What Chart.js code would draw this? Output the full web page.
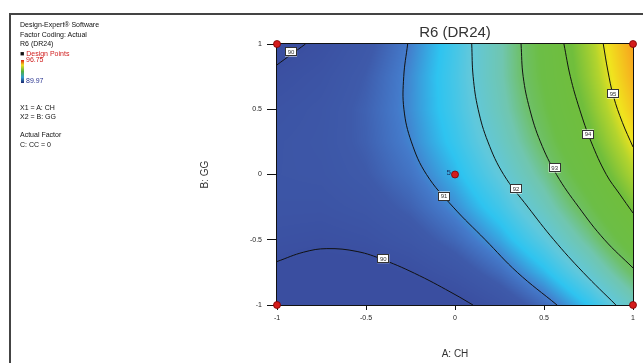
<!DOCTYPE html>
<html>
<head>
<meta charset="utf-8">
<script src="https://cdn.jsdelivr.net/npm/chart.js@4.4.0/dist/chart.umd.min.js"></script>
<style>
  body { margin: 0; background: #fff; }
  #wrap { position: relative; width: 643px; height: 363px; overflow: hidden; font-family: 'Liberation Sans', Arial, sans-serif; }
  #chart { position: absolute; left: 0; top: 0; }
  .frameTop { position: absolute; left: 9px; top: 13px; width: 634px; border-top: 2px solid #444; }
  .frameLeft { position: absolute; left: 9px; top: 13px; height: 350px; border-left: 2px solid #444; }
  .side { position: absolute; left: 20px; font-size: 7px; line-height: 8px; color: #111; white-space: nowrap; }
  .bar { position: absolute; left: 21px; top: 60px; width: 3px; height: 23px;
         background: linear-gradient(to bottom, #e02010 0%, #f0e020 22%, #50b040 50%, #30a0d0 75%, #1c2670 100%); }
</style>
</head>
<body>
<div id="wrap">
  <canvas id="chart" width="643" height="363"></canvas>
  <div class="frameTop"></div>
  <div class="frameLeft"></div>
  <div class="side" style="top:21px">Design-Expert® Software</div>
  <div class="side" style="top:31px">Factor Coding: Actual</div>
  <div class="side" style="top:40px">R6 (DR24)</div>
  <div class="side" style="top:50px"><span style="color:#111">■</span> <span style="color:#d02020">Design Points</span></div>
  <div class="bar"></div>
  <div class="side" style="top:56px;left:26px;color:#d02020">96.75</div>
  <div class="side" style="top:77px;left:26px;color:#2a3590">89.97</div>
  <div class="side" style="top:104px">X1 = A: CH</div>
  <div class="side" style="top:113px">X2 = B: GG</div>
  <div class="side" style="top:131px">Actual Factor</div>
  <div class="side" style="top:141px">C: CC = 0</div>
</div>
<script>
// Rejilla de la superficie de respuesta
const xGrid = [-1, -0.75, -0.5, -0.25, 0, 0.25, 0.5, 0.75, 1];
const yGrid = [1, 0.75, 0.5, 0.25, 0, -0.25, -0.5, -0.75, -1];
const surface = [
  [89.85, 90.10, 90.49, 91.03, 91.72, 92.54, 93.51, 94.63, 95.89],
  [90.09, 90.29, 90.63, 91.12, 91.75, 92.53, 93.45, 94.51, 95.72],
  [90.26, 90.41, 90.70, 91.13, 91.71, 92.44, 93.30, 94.31, 95.47],
  [90.35, 90.44, 90.68, 91.07, 91.60, 92.27, 93.08, 94.04, 95.14],
  [90.36, 90.40, 90.59, 90.92, 91.40, 92.02, 92.78, 93.69, 94.74],
  [90.30, 90.29, 90.42, 90.70, 91.13, 91.69, 92.41, 93.26, 94.26],
  [90.15, 90.09, 90.18, 90.41, 90.78, 91.29, 91.95, 92.76, 93.70],
  [89.93, 89.82, 89.85, 90.03, 90.35, 90.81, 91.42, 92.17, 93.07],
  [89.64, 89.47, 89.45, 89.58, 89.85, 90.26, 90.81, 91.51, 92.36]
];

// Curvas de nivel
const contour90Top = [[-0.84, 1], [-0.92, 0.92], [-1, 0.84]];
const contour90Bottom = [[-1, -0.667], [-0.85, -0.595], [-0.72, -0.568], [-0.55, -0.59], [-0.4, -0.655], [-0.2, -0.775], [0, -0.92], [0.101, -1]];
const contour91 = [[-0.266, 1], [-0.288, 0.75], [-0.287, 0.5], [-0.245, 0.25], [-0.16, 0], [-0.01, -0.25], [0.17, -0.5], [0.35, -0.75], [0.573, -1]];
const contour92 = [[0.094, 1], [0.102, 0.75], [0.13, 0.5], [0.185, 0.25], [0.273, 0], [0.41, -0.25], [0.555, -0.5], [0.72, -0.75], [0.904, -1]];
const contour93 = [[0.371, 1], [0.383, 0.75], [0.42, 0.5], [0.48, 0.25], [0.57, 0], [0.695, -0.25], [0.84, -0.5], [1, -0.716]];
const contour94 = [[0.612, 1], [0.648, 0.75], [0.7, 0.5], [0.765, 0.25], [0.85, 0], [0.925, -0.15], [1, -0.295]];
const contour95 = [[0.833, 1], [0.858, 0.8], [0.89, 0.6], [0.94, 0.4], [1, 0.211]];

// Etiquetas de las curvas: [valor, x, y]
const contourLabels = [[90, -0.921, 0.939], [91, -0.062, -0.165], [92, 0.343, -0.111], [93, 0.56, 0.05], [94, 0.747, 0.31], [95, 0.888, 0.617], [90, -0.403, -0.645]];

// Puntos de diseño
const designX = [-1, 1, -1, 1, 0];
const designY = [1, 1, -1, -1, 0];
const designCount = [1, 1, 1, 1, 5];

const xTicks = [-1, -0.5, 0, 0.5, 1];
const yTicks = [-1, -0.5, 0, 0.5, 1];

// Escala de colores
const colorStops = [
  [89.97, [58, 78, 160]],
  [90.6, [62, 90, 170]],
  [91.0, [68, 122, 202]],
  [91.5, [46, 196, 240]],
  [92.0, [96, 200, 220]],
  [92.6, [112, 198, 175]],
  [93.0, [110, 192, 105]],
  [93.4, [108, 190, 70]],
  [94.2, [112, 190, 60]],
  [94.8, [180, 212, 45]],
  [95.15, [240, 228, 30]],
  [95.9, [248, 160, 30]],
  [96.75, [230, 40, 20]]
];

function colorFor(v) {
  if (v <= colorStops[0][0]) return colorStops[0][1];
  for (let i = 1; i < colorStops.length; i++) {
    if (v <= colorStops[i][0]) {
      const [v0, c0] = colorStops[i - 1], [v1, c1] = colorStops[i];
      const t = (v - v0) / (v1 - v0);
      return [0, 1, 2].map(k => c0[k] + (c1[k] - c0[k]) * t);
    }
  }
  return colorStops[colorStops.length - 1][1];
}

function sample(vx, vy) {
  let i = 0; while (i < xGrid.length - 2 && vx > xGrid[i + 1]) i++;
  let j = 0; while (j < yGrid.length - 2 && vy < yGrid[j + 1]) j++;
  const tx = (vx - xGrid[i]) / (xGrid[i + 1] - xGrid[i]);
  const ty = (vy - yGrid[j]) / (yGrid[j + 1] - yGrid[j]);
  const r0 = surface[j], r1 = surface[j + 1];
  const top = r0[i] + (r0[i + 1] - r0[i]) * tx;
  const bot = r1[i] + (r1[i + 1] - r1[i]) * tx;
  return top + (bot - top) * ty;
}

const heatmap = {
  id: 'heatmap',
  beforeDatasetsDraw(chart) {
    const { ctx, chartArea: a, scales: { x, y } } = chart;
    const left = Math.round(a.left), top = Math.round(a.top);
    const w = Math.round(a.right) - left, h = Math.round(a.bottom) - top;
    const img = ctx.createImageData(w, h);
    for (let j = 0; j < h; j++) {
      const vy = y.getValueForPixel(top + j + 0.5);
      for (let i = 0; i < w; i++) {
        const c = colorFor(sample(x.getValueForPixel(left + i + 0.5), vy));
        const k = (j * w + i) * 4;
        img.data[k] = c[0]; img.data[k + 1] = c[1]; img.data[k + 2] = c[2]; img.data[k + 3] = 255;
      }
    }
    ctx.putImageData(img, left, top);
    ctx.save();
    ctx.strokeStyle = '#111';
    ctx.lineWidth = 1;
    ctx.strokeRect(left - 0.5, top - 0.5, w + 1, h + 1);
    ctx.restore();
  }
};

const overlay = {
  id: 'overlay',
  afterDatasetsDraw(chart) {
    const { ctx, scales: { x, y } } = chart;
    ctx.save();
    ctx.font = '6px "Liberation Sans", Arial, sans-serif';
    ctx.textAlign = 'center';
    ctx.textBaseline = 'middle';
    contourLabels.forEach(([v, lx, ly]) => {
      const px = x.getPixelForValue(lx), py = y.getPixelForValue(ly);
      ctx.fillStyle = '#fff';
      ctx.fillRect(px - 6, py - 4.5, 12, 9);
      ctx.strokeStyle = '#333';
      ctx.lineWidth = 1;
      ctx.strokeRect(Math.round(px - 6) + 0.5, Math.round(py - 4.5) + 0.5, 11, 8);
      ctx.fillStyle = '#333';
      ctx.fillText(String(v), px, py + 0.5);
    });
    ctx.font = '8px "Liberation Sans", Arial, sans-serif';
    ctx.textAlign = 'right';
    ctx.fillStyle = '#1a2a5a';
    designCount.forEach((n, i) => {
      if (n > 1) ctx.fillText(String(n), x.getPixelForValue(designX[i]) - 4, y.getPixelForValue(designY[i]) - 2);
    });
    ctx.restore();
  }
};

const contourLine = pts => ({
  type: 'line',
  data: pts.map(p => ({ x: p[0], y: p[1] })),
  borderColor: '#111',
  borderWidth: 1,
  pointRadius: 0,
  tension: 0.4,
  fill: false
});

new Chart(document.getElementById('chart'), {
  type: 'line',
  data: {
    datasets: [
      contourLine(contour90Top),
      contourLine(contour90Bottom),
      contourLine(contour91),
      contourLine(contour92),
      contourLine(contour93),
      contourLine(contour94),
      contourLine(contour95),
      {
        type: 'scatter',
        data: designX.map((v, i) => ({ x: v, y: designY[i] })),
        pointStyle: 'circle',
        pointRadius: 3.5,
        backgroundColor: '#d41c1c',
        borderColor: '#7a0000',
        borderWidth: 0.8,
        clip: false
      }
    ]
  },
  options: {
    responsive: false,
    animation: false,
    events: [],
    layout: { padding: { left: 190, right: 10, top: 0, bottom: 0 } },
    plugins: {
      legend: { display: false },
      tooltip: { enabled: false },
      title: {
        display: true,
        fullSize: false,
        text: 'R6 (DR24)',
        color: '#333',
        font: { size: 15, weight: 'normal', family: "'Liberation Sans', Arial, sans-serif" },
        padding: { top: 24, bottom: 2 }
      }
    },
    scales: {
      x: {
        type: 'linear',
        min: -1,
        max: 1,
        afterBuildTicks: s => { s.ticks = xTicks.map(v => ({ value: v })); },
        afterFit: s => { s.height = 58; },
        ticks: { color: '#222', font: { size: 7, family: "'Liberation Sans', Arial" }, padding: 4, callback: v => String(v), maxRotation: 0 },
        grid: { drawOnChartArea: false, drawTicks: true, tickLength: 5, color: '#111' },
        border: { display: false },
        title: { display: true, text: 'A: CH', color: '#333', font: { size: 10, family: "'Liberation Sans', Arial" }, padding: { top: 0, bottom: 3 } }
      },
      y: {
        type: 'linear',
        min: -1,
        max: 1,
        afterBuildTicks: s => { s.ticks = yTicks.map(v => ({ value: v })); },
        afterFit: s => { s.width = 87; },
        ticks: { color: '#222', font: { size: 7, family: "'Liberation Sans', Arial" }, padding: 5, callback: v => String(v) },
        grid: { drawOnChartArea: false, drawTicks: true, tickLength: 10, color: '#111' },
        border: { display: false },
        title: { display: true, text: 'B: GG', color: '#333', font: { size: 10, family: "'Liberation Sans', Arial" }, padding: { top: 9, bottom: 0 } }
      }
    }
  },
  plugins: [heatmap, overlay]
});
</script>
</body>
</html>
